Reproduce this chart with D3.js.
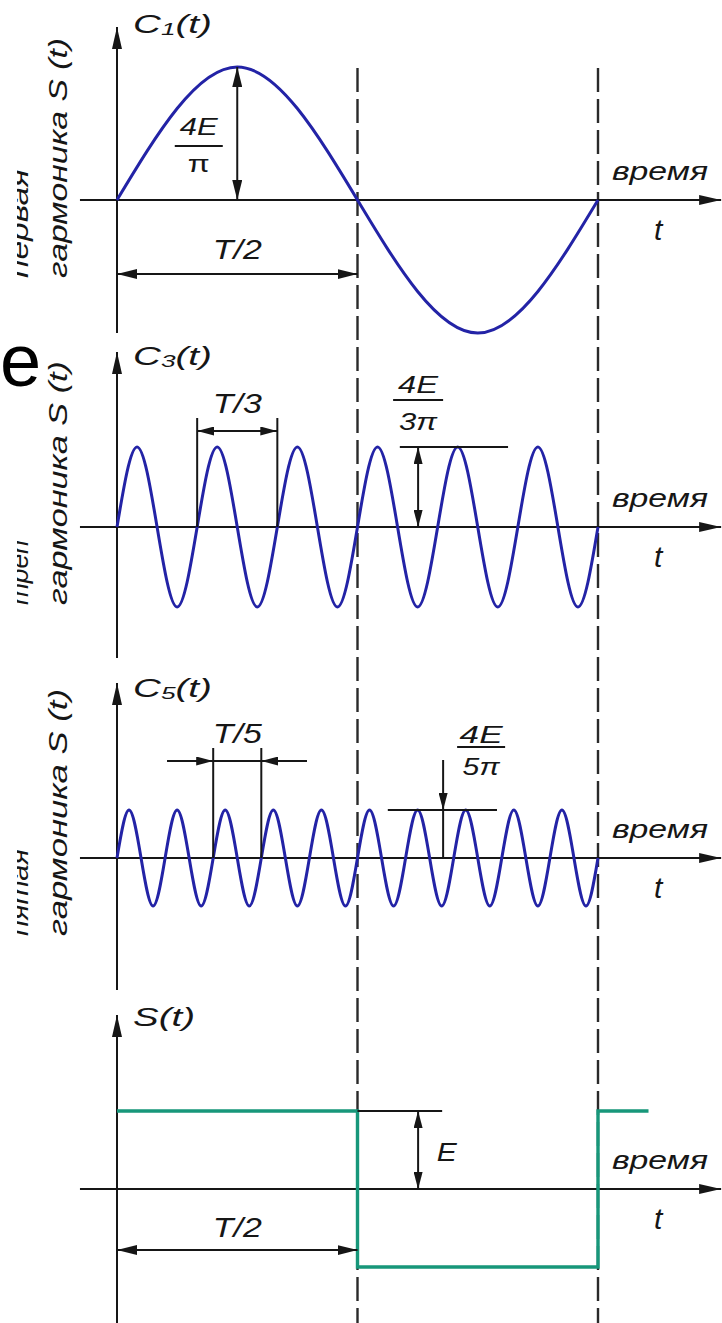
<!DOCTYPE html>
<html>
<head>
<meta charset="utf-8">
<script src="https://cdn.jsdelivr.net/npm/d3@7"></script>
<style>
  body { margin: 0; background: #fff; }
  svg { display: block; }
</style>
</head>
<body>
<script>
const W = 722, H = 1323

// time in periods T, values in units of E (read off the picture:
// zero crossings and extremes of each harmonic)
const c1Time = [0, 0.25, 0.5, 0.75, 1]
const c1Value = [0, 1.27, 0, -1.27, 0]
const c3Time = [0, 1/24, 2/24, 3/24, 4/24, 5/24, 6/24, 7/24, 8/24, 9/24, 10/24, 11/24, 12/24,
                13/24, 14/24, 15/24, 16/24, 17/24, 18/24, 19/24, 20/24, 21/24, 22/24, 23/24, 1]
const c3Value = [0, 0.42, 0, -0.42, 0, 0.42, 0, -0.42, 0, 0.42, 0, -0.42, 0,
                 0.42, 0, -0.42, 0, 0.42, 0, -0.42, 0, 0.42, 0, -0.42, 0]
const c5Time = [0, 0.025, 0.05, 0.075, 0.1, 0.125, 0.15, 0.175, 0.2, 0.225, 0.25,
                0.275, 0.3, 0.325, 0.35, 0.375, 0.4, 0.425, 0.45, 0.475, 0.5,
                0.525, 0.55, 0.575, 0.6, 0.625, 0.65, 0.675, 0.7, 0.725, 0.75,
                0.775, 0.8, 0.825, 0.85, 0.875, 0.9, 0.925, 0.95, 0.975, 1]
const c5Value = [0, 0.25, 0, -0.25, 0, 0.25, 0, -0.25, 0, 0.25, 0,
                 -0.25, 0, 0.25, 0, -0.25, 0, 0.25, 0, -0.25, 0,
                 0.25, 0, -0.25, 0, 0.25, 0, -0.25, 0, 0.25, 0,
                 -0.25, 0, 0.25, 0, -0.25, 0, 0.25, 0, -0.25, 0]
const sTime = [0, 0.5, 1, 1.105]
const sValue = [1, -1, 1, 1]

const seriesTime = [c1Time, c3Time, c5Time, sTime]
const seriesValue = [c1Value, c3Value, c5Value, sValue]
const subscripts = ['1', '3', '5', '']
const rowNames = ['первая', 'третья', 'пятая']
const periodLabels = ['T/2', 'T/3', 'T/5', 'T/2']
const denominators = ['π', '3π', '5π']

// layout of the four stacked panels
const panels = [
  { zero: 200, ampPx: 133, top: 27, bottom: 333, labelY: 33 },
  { zero: 527, ampPx: 80, top: 352, bottom: 658, labelY: 365 },
  { zero: 858, ampPx: 48, top: 683, bottom: 990, labelY: 697 },
  { zero: 1189, ampPx: 78, top: 1015, bottom: 1323, labelY: 1026 }
]

const blue = '#2323a6'
const green = '#17977a'
const ink = '#161616'
const font = '"Liberation Sans", Arial, sans-serif'

const x = d3.scaleLinear().domain([0, 1]).range([117, 598])

const svg = d3.select('body').append('svg')
  .attr('width', W)
  .attr('height', H)

const defs = svg.append('defs')
function marker(id, len, half) {
  defs.append('marker')
    .attr('id', id)
    .attr('viewBox', `${-len} ${-half} ${len} ${2 * half}`)
    .attr('refX', 0).attr('refY', 0)
    .attr('markerUnits', 'userSpaceOnUse')
    .attr('markerWidth', len).attr('markerHeight', 2 * half)
    .attr('orient', 'auto-start-reverse')
    .append('path')
    .attr('d', `M0,0L${-len},${-half}L${-len},${half}Z`)
    .attr('fill', ink)
}
marker('axisHead', 22, 5)
marker('dimHead', 20, 5)
marker('smallHead', 17, 4.5)

defs.append('clipPath').attr('id', 'clipA')
  .append('rect').attr('x', 17).attr('y', 0).attr('width', 100).attr('height', H)
defs.append('clipPath').attr('id', 'clipB')
  .append('rect').attr('x', 17).attr('y', 541).attr('width', 100).attr('height', H - 541)

function seg(g, x1, y1, x2, y2, w, head, both) {
  const l = g.append('line')
    .attr('x1', x1).attr('y1', y1).attr('x2', x2).attr('y2', y2)
    .attr('stroke', ink).attr('stroke-width', w)
  if (head) {
    l.attr('marker-end', `url(#${head})`)
    if (both) l.attr('marker-start', `url(#${head})`)
  }
  return l
}

function label(g, str, px, py, size, len, anchor) {
  const t = g.append('text')
    .attr('x', px).attr('y', py)
    .attr('font-family', font)
    .attr('font-style', 'italic')
    .attr('font-size', size)
    .attr('fill', ink)
    .attr('text-anchor', anchor || 'start')
    .text(str)
  if (len) t.attr('textLength', len).attr('lengthAdjust', 'spacingAndGlyphs')
  return t
}

// dashed guides at T/2 and T
const guides = svg.append('g')
;[0.5, 1].forEach(t => {
  guides.append('line')
    .attr('x1', x(t)).attr('x2', x(t))
    .attr('y1', 68).attr('y2', H)
    .attr('stroke', '#2a2a2a')
    .attr('stroke-width', 2.4)
    .attr('stroke-dasharray', '24,7')
})

panels.forEach((p, i) => {
  const g = svg.append('g')
  const amp = d3.max(seriesValue[i])
  const y = d3.scaleLinear().domain([-amp, amp]).range([p.zero + p.ampPx, p.zero - p.ampPx])

  // axes
  seg(g, x(-0.077), p.zero, x(1.256), p.zero, 2, 'axisHead')
  seg(g, x(0), p.bottom, x(0), p.top, 2, 'axisHead')

  // signal
  const pts = seriesTime[i].map((t, k) => [t, seriesValue[i][k]])
  const line = d3.line()
    .x(d => x(d[0]))
    .y(d => y(d[1]))
    .curve(i < 3 ? d3.curveNatural : d3.curveStepAfter)
  g.append('path')
    .attr('d', line(pts))
    .attr('fill', 'none')
    .attr('stroke', i < 3 ? blue : green)
    .attr('stroke-width', i < 3 ? 3 : 3.4)

  // axis name
  const lt = g.append('text')
    .attr('x', x(0) + 16).attr('y', p.labelY)
    .attr('font-family', font).attr('font-style', 'italic')
    .attr('font-size', 25).attr('fill', ink)
    .attr('textLength', i < 3 ? 79 : 62)
    .attr('lengthAdjust', 'spacingAndGlyphs')
  if (i < 3) {
    lt.append('tspan').text('C')
    lt.append('tspan').attr('font-size', 17).attr('dy', 2).text(subscripts[i])
    lt.append('tspan').attr('dy', -2).text('(t)')
  } else {
    lt.text('S(t)')
  }

  // axis words
  label(g, 'время', x(1.029), p.zero - 20, 26, 96)
  label(g, 't', x(1.125), p.zero + 40, 30, null, 'middle')

  // rotated row captions
  if (i < 3) {
    const base = p.zero + 78
    label(g, 'гармоника S (t)', 0, 0, 25, [240, 244, 247][i])
      .attr('transform', `translate(67,${base}) rotate(-90)`)
    const cg = g.append('g').attr('clip-path', i === 1 ? 'url(#clipB)' : 'url(#clipA)')
    label(cg, rowNames[i], 0, 0, 25, [109, 101, 87][i])
      .attr('transform', `translate(28,${base}) rotate(-90)`)
  }
})

// panel 1 annotations
{
  const p = panels[0]
  const amp = d3.max(c1Value)
  const y = d3.scaleLinear().domain([-amp, amp]).range([p.zero + p.ampPx, p.zero - p.ampPx])
  const g = svg.append('g')
  seg(g, x(0.25), y(amp), x(0.25), p.zero, 2, 'dimHead', true)
  label(g, '4E', x(0.17), p.zero - 65, 23, 38, 'middle')
  seg(g, x(0.17) - 24, p.zero - 54, x(0.17) + 24, p.zero - 54, 2)
  label(g, denominators[0], x(0.17), p.zero - 28, 24, 22, 'middle').attr('font-style', 'normal')
  seg(g, x(0), p.zero + 74, x(0.5), p.zero + 74, 2, 'dimHead', true)
  label(g, periodLabels[0], x(0.25), p.zero + 59, 27, 49, 'middle')
}

// panel 2 annotations
{
  const p = panels[1]
  const amp = d3.max(c3Value)
  const y = d3.scaleLinear().domain([-amp, amp]).range([p.zero + p.ampPx, p.zero - p.ampPx])
  const g = svg.append('g')
  ;[1 / 6, 2 / 6].forEach(t => seg(g, x(t), p.zero - 109, x(t), p.zero, 2))
  seg(g, x(1 / 6), p.zero - 96, x(2 / 6), p.zero - 96, 2, 'smallHead', true)
  label(g, periodLabels[1], x(0.25), p.zero - 114, 27, 49, 'middle')
  seg(g, x(0.588), y(amp), x(0.813), y(amp), 2)
  seg(g, x(0.626), y(amp), x(0.626), p.zero, 2, 'smallHead', true)
  label(g, '4E', x(0.626), p.zero - 134, 23, 40, 'middle')
  seg(g, x(0.626) - 25, p.zero - 127, x(0.626) + 25, p.zero - 127, 2)
  label(g, denominators[1], x(0.626), p.zero - 97, 24, 38, 'middle')
}

// panel 3 annotations
{
  const p = panels[2]
  const amp = d3.max(c5Value)
  const y = d3.scaleLinear().domain([-amp, amp]).range([p.zero + p.ampPx, p.zero - p.ampPx])
  const g = svg.append('g')
  ;[0.2, 0.3].forEach(t => seg(g, x(t), p.zero - 110, x(t), p.zero, 2))
  seg(g, x(0.2), p.zero - 97, x(0.3), p.zero - 97, 2)
  seg(g, x(0.104), p.zero - 97, x(0.2), p.zero - 97, 2, 'smallHead')
  seg(g, x(0.395), p.zero - 97, x(0.3), p.zero - 97, 2, 'smallHead')
  label(g, periodLabels[2], x(0.25), p.zero - 115, 27, 49, 'middle')
  seg(g, x(0.563), y(amp), x(0.79), y(amp), 2)
  seg(g, x(0.678), p.zero - 98, x(0.678), y(amp), 2, 'smallHead')
  seg(g, x(0.678), y(amp), x(0.678), p.zero, 2)
  label(g, '4E', x(0.757), p.zero - 115, 23, 43, 'middle')
  seg(g, x(0.757) - 24, p.zero - 111, x(0.757) + 24, p.zero - 111, 2)
  label(g, denominators[2], x(0.757), p.zero - 83, 24, 37, 'middle')
}

// panel 4 annotations
{
  const p = panels[3]
  const amp = d3.max(sValue)
  const y = d3.scaleLinear().domain([-amp, amp]).range([p.zero + p.ampPx, p.zero - p.ampPx])
  const g = svg.append('g')
  seg(g, x(0.5), y(amp), x(0.676), y(amp), 2)
  seg(g, x(0.626), y(amp), x(0.626), p.zero, 2, 'smallHead', true)
  label(g, 'E', x(0.665), p.zero - 28, 26, 20)
  seg(g, x(0), p.zero + 61, x(0.5), p.zero + 61, 2, 'dimHead', true)
  label(g, periodLabels[3], x(0.25), p.zero + 48, 27, 49, 'middle')
}

// cut-off slide title letter
svg.append('text')
  .attr('x', 0).attr('y', 386)
  .attr('font-family', font)
  .attr('font-size', 74)
  .attr('fill', '#000')
  .text('e')
</script>
</body>
</html>
